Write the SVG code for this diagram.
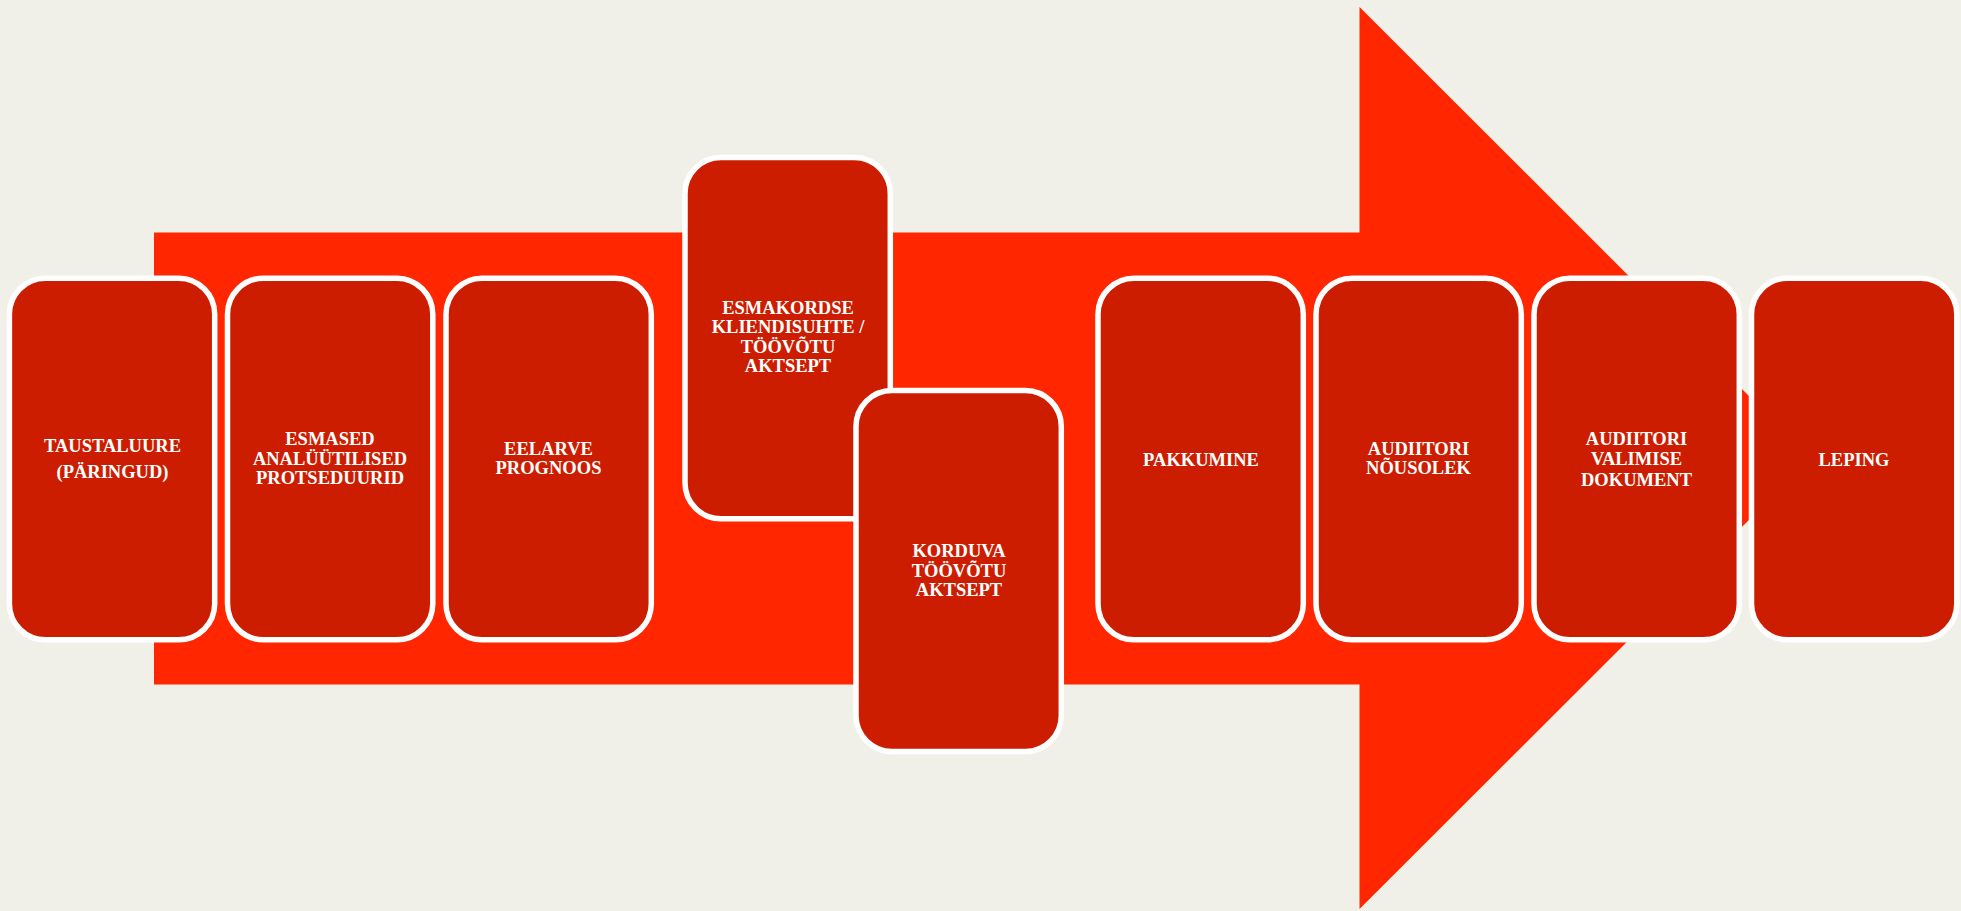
<svg xmlns="http://www.w3.org/2000/svg" width="1961" height="911" viewBox="0 0 1961 911">
<style>
.box{fill:#CD1D00;stroke:#FFFFFF;stroke-width:5.5}
.t{font-family:"Liberation Serif","Times New Roman",serif;font-weight:bold;font-size:18.5px;fill:#FFFFFF;text-anchor:middle}
</style>
<rect x="0" y="0" width="1961" height="911" fill="#F1F0E8"/>
<g id="connectors">
<polygon id="arrow" points="154,232.5 1359.5,232.5 1359.5,7 1811,458 1359.5,909 1359.5,684.5 154,684.5" fill="#FF2600"/>
</g>
<g id="n1"><rect class="box" x="9.4" y="278.2" width="205.3" height="361.6" rx="36" ry="36"/>
<text class="t" x="112.5" y="452">TAUSTALUURE</text><text class="t" x="112.5" y="478.3">(PÄRINGUD)</text></g>
<g id="n2"><rect class="box" x="227.5" y="278.2" width="205.3" height="361.6" rx="36" ry="36"/>
<text class="t" x="330" y="445">ESMASED</text><text class="t" x="330" y="464.5">ANALÜÜTILISED</text><text class="t" x="330" y="484">PROTSEDUURID</text></g>
<g id="n3"><rect class="box" x="446" y="278.2" width="205.3" height="361.6" rx="36" ry="36"/>
<text class="t" x="548.5" y="455">EELARVE</text><text class="t" x="548.5" y="473.5">PROGNOOS</text></g>
<g id="n4"><rect class="box" x="685" y="157.5" width="205.3" height="361.3" rx="36" ry="36"/>
<text class="t" x="788" y="313.5">ESMAKORDSE</text><text class="t" x="788" y="333">KLIENDISUHTE /</text><text class="t" x="788" y="352.5">TÖÖVÕTU</text><text class="t" x="788" y="372">AKTSEPT</text></g>
<g id="n5"><rect class="box" x="856" y="390.5" width="205.3" height="361" rx="36" ry="36"/>
<text class="t" x="959" y="557">KORDUVA</text><text class="t" x="959" y="576.5">TÖÖVÕTU</text><text class="t" x="959" y="596">AKTSEPT</text></g>
<g id="n6"><rect class="box" x="1098" y="278.2" width="205.3" height="361.6" rx="36" ry="36"/>
<text class="t" x="1201" y="465.7">PAKKUMINE</text></g>
<g id="n7"><rect class="box" x="1316" y="278.2" width="205.3" height="361.6" rx="36" ry="36"/>
<text class="t" x="1418.5" y="455">AUDIITORI</text><text class="t" x="1418.5" y="474">NÕUSOLEK</text></g>
<g id="n8"><rect class="box" x="1534" y="278.2" width="205.3" height="361.6" rx="36" ry="36"/>
<text class="t" x="1636.5" y="445">AUDIITORI</text><text class="t" x="1636.5" y="465">VALIMISE</text><text class="t" x="1636.5" y="485.5">DOKUMENT</text></g>
<g id="n9"><rect class="box" x="1751.5" y="278.2" width="205.3" height="361.6" rx="36" ry="36"/>
<text class="t" x="1854" y="465.7">LEPING</text></g>
</svg>
